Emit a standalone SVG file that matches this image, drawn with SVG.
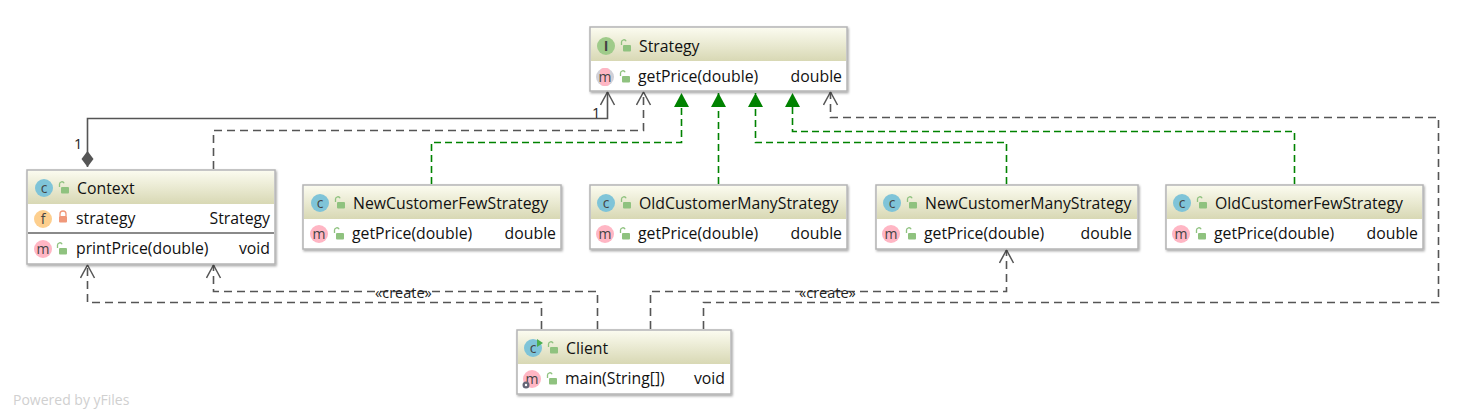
<svg xmlns="http://www.w3.org/2000/svg" width="1463" height="420" viewBox="0 0 1463 420">
<style>
text{font-family:"Open Sans","Noto Sans","Liberation Sans",sans-serif;font-size:15.8px;fill:#111}
.r{text-anchor:end}
.box{fill:#fff;stroke:#b4b4b4;stroke-width:1.5;filter:url(#sh)}
.hd{fill:url(#hg)}
.sep{stroke:#8a8a8a;stroke-width:2}
.ic{font-size:14px;text-anchor:middle;fill:#444}
.lock{fill:none;stroke:#8fc27f;stroke-width:1.3}
.lockb{fill:#8fc27f}
.c{fill:none;stroke:#555;stroke-width:1.6}
.d{stroke-dasharray:8 5}
.g{fill:none;stroke:#008200;stroke-width:1.6;stroke-dasharray:7 4}
.lbl{font-size:14.5px;fill:#222}
</style>
<defs>
<linearGradient id="hg" x1="0" y1="0" x2="0" y2="1"><stop offset="0" stop-color="#fbfbef"/><stop offset="1" stop-color="#d8d8b4"/></linearGradient>
<filter id="sh" x="-3%" y="-5%" width="106%" height="115%"><feDropShadow dx="1" dy="1.5" stdDeviation="0.8" flood-color="#000" flood-opacity="0.35"/></filter>
<marker id="open" markerWidth="16" markerHeight="16" refX="14" refY="8" orient="auto" markerUnits="userSpaceOnUse"><path d="M1 1L14 8L1 15" fill="none" stroke="#555" stroke-width="1.5"/></marker>
<marker id="tri" markerWidth="16" markerHeight="16" refX="15" refY="8" orient="auto" markerUnits="userSpaceOnUse"><path d="M1 0.5L15 8L1 15.5Z" fill="#008200"/></marker>
<marker id="dia" markerWidth="18" markerHeight="14" refX="1" refY="7" orient="auto" markerUnits="userSpaceOnUse"><path d="M1 7L9 1L17 7L9 13Z" fill="#555"/></marker>
<g id="pub"><path class="lock" d="M-4.5 -1V-4a2.4 2.4 0 0 1 4.6 -.8"/><rect class="lockb" x="-3" y="-1" width="8" height="6.5" rx="1"/></g>
<g id="ci"><circle r="9" fill="#7fc4d8"/><text class="ic" y="4.5">c</text></g>
<g id="mi"><circle r="9" fill="#ffb6c4"/><text class="ic" y="4.5">m</text></g>
</defs>
<rect width="1463" height="420" fill="#fff"/>
<g id="connectors">
<path class="c" marker-start="url(#dia)" marker-end="url(#open)" d="M87.500 167V118.500H607.500V92"/>
<path class="c d" marker-end="url(#open)" d="M213.500 169V130.500H643.500V92"/>
<path class="g" marker-end="url(#tri)" d="M431.500 184V142.500H681.500V93"/>
<path class="g" marker-end="url(#tri)" d="M718.500 184V93"/>
<path class="g" marker-end="url(#tri)" d="M1006.500 184V142.500H755.500V93"/>
<path class="g" marker-end="url(#tri)" d="M1294.500 184V131.500H792.500V93"/>
<path class="c d" marker-end="url(#open)" d="M541.500 329V302.500H87.500V265"/>
<path class="c d" marker-end="url(#open)" d="M597.500 329V291.500H213.500V265"/>
<path class="c d" marker-end="url(#open)" d="M650.500 329V291.500H1006.500V250"/>
<path class="c d" marker-end="url(#open)" d="M703.500 329V302.500H1438.500V117.500H830.500V92"/>
<text class="lbl" x="74" y="149">1</text>
<text class="lbl" x="592" y="118">1</text>
<text class="lbl" x="375" y="297.500">«create»</text>
<text class="lbl" x="799" y="297.500">«create»</text>
</g>
<g id="strategy">
<rect class="box" x="590" y="27" width="257" height="64"/><rect class="hd" x="591" y="28" width="255" height="33"/>
<circle cx="606" cy="46" r="9" fill="#9fcb8a"/><text class="ic" x="606" y="50.500" style="font-weight:bold">I</text><use href="#pub" x="626" y="46"/>
<text x="639" y="52">Strategy</text>
<circle cx="605" cy="77" r="9" fill="#d0d0d8"/><rect x="600" y="68" width="10" height="18" rx="4" fill="#ffb6c4"/><text class="ic" x="605" y="81.500">m</text><use href="#pub" x="625" y="77"/>
<text x="638" y="82">getPrice(double)</text><text class="r" x="842" y="82">double</text>
</g>
<g id="context">
<rect class="box" x="27" y="170" width="248" height="94"/><rect class="hd" x="28" y="171" width="246" height="33"/>
<use href="#ci" x="44" y="188"/><use href="#pub" x="64" y="188"/>
<text x="77" y="194">Context</text>
<circle cx="43" cy="219" r="9" fill="#fdcf8e"/><text class="ic" x="43" y="223.500">f</text>
<path d="M60 216v-2a3 3 0 0 1 6 0v2" fill="none" stroke="#f0987a" stroke-width="1.3"/><rect x="59" y="216" width="8" height="6.5" rx="1" fill="#f0987a"/>
<text x="76" y="224">strategy</text><text class="r" x="270" y="224">Strategy</text>
<path class="sep" d="M28 233H274"/>
<use href="#mi" x="43" y="249"/><use href="#pub" x="62" y="249"/>
<text x="76" y="254">printPrice(double)</text><text class="r" x="270" y="254">void</text>
</g>
<g id="newCustomerFew">
<rect class="box" x="303" y="185" width="258" height="64"/><rect class="hd" x="304" y="186" width="256" height="33"/>
<use href="#ci" x="320" y="203"/><use href="#pub" x="340" y="203"/>
<text x="353" y="209">NewCustomerFewStrategy</text>
<use href="#mi" x="319" y="234"/><use href="#pub" x="339" y="234"/>
<text x="352" y="239">getPrice(double)</text><text class="r" x="556" y="239">double</text>
</g>
<g id="oldCustomerMany">
<rect class="box" x="590" y="185" width="257" height="64"/><rect class="hd" x="591" y="186" width="255" height="33"/>
<use href="#ci" x="606" y="203"/><use href="#pub" x="626" y="203"/>
<text x="639" y="209">OldCustomerManyStrategy</text>
<use href="#mi" x="605" y="234"/><use href="#pub" x="625" y="234"/>
<text x="638" y="239">getPrice(double)</text><text class="r" x="842" y="239">double</text>
</g>
<g id="newCustomerMany">
<rect class="box" x="876" y="185" width="262" height="64"/><rect class="hd" x="877" y="186" width="260" height="33"/>
<use href="#ci" x="892" y="203"/><use href="#pub" x="912" y="203"/>
<text x="925" y="209">NewCustomerManyStrategy</text>
<use href="#mi" x="891" y="234"/><use href="#pub" x="911" y="234"/>
<text x="924" y="239">getPrice(double)</text><text class="r" x="1132" y="239">double</text>
</g>
<g id="oldCustomerFew">
<rect class="box" x="1166" y="185" width="257" height="64"/><rect class="hd" x="1167" y="186" width="255" height="33"/>
<use href="#ci" x="1182" y="203"/><use href="#pub" x="1202" y="203"/>
<text x="1215" y="209">OldCustomerFewStrategy</text>
<use href="#mi" x="1181" y="234"/><use href="#pub" x="1201" y="234"/>
<text x="1214" y="239">getPrice(double)</text><text class="r" x="1418" y="239">double</text>
</g>
<g id="client">
<rect class="box" x="517" y="330" width="214" height="64"/><rect class="hd" x="518" y="331" width="212" height="33"/>
<use href="#ci" x="533" y="348"/><path d="M537 339L543 343L537 347Z" fill="#4caf50"/><use href="#pub" x="553" y="348"/>
<text x="566" y="354">Client</text>
<use href="#mi" x="532" y="379"/><circle cx="526" cy="385" r="3.500" fill="#667" /><circle cx="526" cy="385" r="1.200" fill="#fff"/><use href="#pub" x="552" y="379"/>
<text x="565" y="384">main(String[])</text><text class="r" x="725" y="384">void</text>
</g>
<text x="13" y="405" style="font-size:14px;fill:#d0d0d0">Powered by yFiles</text>
</svg>
